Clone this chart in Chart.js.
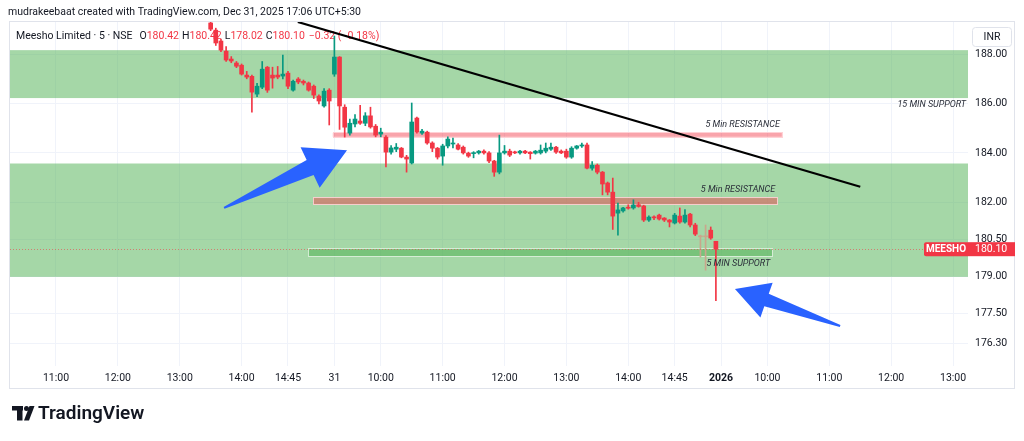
<!DOCTYPE html>
<html><head><meta charset="utf-8">
<script src="https://cdn.jsdelivr.net/npm/chart.js@4.4.1/dist/chart.umd.min.js"></script>
<style>html,body{margin:0;padding:0;background:#fff;overflow:hidden}canvas{display:block}</style>
</head><body>
<canvas id="c" width="1024" height="441"></canvas>
<script>
// ---- DATA ----
const candleIdx = [51,52,53,54,55,56,57,58,59,60,61,62,63,64,65,66,67,68,69,70,71,72,73,74,75,76,77,78,79,80,81,82,83,84,85,86,87,88,89,90,91,92,93,94,95,96,97,98,99,100,101,102,103,104,105,106,107,108,109,110,111,112,113,114,115,116,117,118,119,120,121,122,123,124,125,126,127,128,129,130,131,132,133,134,135,136,137,138,139,140,141,142,143,144,145,146,147,148,149];
const opens  = [189.26,188.97,188.53,188.12,187.80,187.64,187.55,187.15,187.10,186.38,186.66,187.47,187.15,187.15,187.11,187.23,186.54,186.99,186.90,186.83,186.70,186.30,185.90,186.54,187.19,187.88,185.85,184.80,185.17,185.29,185.20,185.50,185.08,184.76,184.64,184.03,184.15,184.19,183.83,183.59,185.41,184.80,184.84,184.40,184.19,183.87,184.28,184.36,184.32,184.23,183.99,183.97,184.00,184.07,184.00,183.67,183.22,184.00,184.07,184.03,184.00,184.07,184.03,183.99,184.00,184.07,184.15,184.23,184.07,184.07,183.83,184.19,184.28,184.32,183.38,183.50,183.22,182.78,182.41,181.56,181.65,181.79,181.77,181.90,181.85,181.28,181.40,181.48,181.36,181.28,181.16,181.44,181.20,181.52,181.08,180.62,180.60,180.87,180.42];
const highs  = [189.60,189.05,188.60,188.30,187.90,187.70,187.60,187.30,187.15,186.82,187.70,187.50,187.47,187.50,187.96,187.30,186.95,187.05,186.95,186.87,186.75,186.35,186.60,186.60,188.73,187.90,185.95,185.37,185.55,185.93,185.63,185.85,185.15,185.00,184.70,184.30,184.38,184.22,183.90,186.02,185.45,184.95,184.88,184.45,184.22,184.35,184.65,184.60,184.38,184.28,184.03,184.05,184.10,184.12,184.05,183.70,184.72,184.30,184.15,184.07,184.10,184.10,184.05,184.10,184.32,184.40,184.40,184.27,184.12,184.15,184.25,184.30,184.40,184.40,183.65,183.55,183.25,182.82,182.98,181.97,181.80,181.90,182.10,182.00,181.88,181.45,181.45,181.52,181.38,181.30,181.55,181.77,181.70,181.55,181.15,180.67,181.08,181.00,180.42];
const lows   = [188.95,188.35,188.10,187.70,187.65,187.45,187.15,187.00,185.65,186.28,186.60,186.45,186.62,187.00,187.00,186.60,186.50,186.80,186.75,186.50,186.20,185.98,185.85,185.13,187.10,184.95,184.64,184.72,185.05,185.15,185.10,185.00,184.65,184.65,183.43,183.95,184.05,183.80,183.22,183.55,184.80,184.75,184.35,184.05,183.75,183.50,184.20,184.20,184.12,183.95,183.82,183.80,183.95,183.95,183.60,183.05,183.15,183.95,183.85,183.97,183.95,183.97,183.75,183.95,183.95,184.00,184.10,183.98,183.97,183.78,183.78,184.15,184.22,183.35,183.30,183.15,182.30,182.30,180.90,180.67,181.60,181.72,181.72,181.80,181.22,181.22,181.30,181.28,181.22,181.00,181.12,181.15,181.15,181.00,180.65,179.78,179.25,180.50,178.02];
const closes = [189.01,188.45,188.16,187.76,187.72,187.51,187.19,187.07,186.46,186.70,187.39,186.54,187.03,187.07,187.19,186.70,186.90,186.87,186.83,186.54,186.34,186.10,186.50,186.10,187.88,185.90,185.04,185.20,185.37,185.20,185.50,185.05,184.72,184.84,184.03,184.20,184.23,183.83,183.75,185.25,184.84,184.88,184.40,184.19,183.83,184.28,184.56,184.40,184.15,184.00,183.87,184.01,184.07,184.00,183.67,183.22,184.00,184.07,183.91,184.00,184.07,184.00,183.97,184.07,184.11,184.19,184.23,184.03,184.00,183.83,184.19,184.28,184.32,183.38,183.50,183.22,182.74,182.41,181.44,181.69,181.77,181.76,181.89,181.83,181.28,181.40,181.37,181.32,181.28,181.20,181.48,181.20,181.48,181.08,180.71,180.60,180.63,180.55,180.10];
const fadedCandles = [146,147];

const xTickIdx    = [21,33,45,57,66,75,84,96,108,120,132,141,150,159,171,183,195];
const xTickLabels = ['11:00','12:00','13:00','14:00','14:45','31','10:00','11:00','12:00','13:00','14:00','14:45','2026','10:00','11:00','12:00','13:00'];
const yTicks      = [188,186,184,182,180.5,179,177.5,176.3];

// zones (full width)
const zoneTop    = [188.16,183.57];
const zoneBottom = [186.22,178.98];
const zoneLabel  = ['15 MIN SUPPORT',''];
// narrow bands
const bandFrom   = [74.7,70.85,69.9];
const bandTo     = [161.8,160.9,159.9];
const bandTop    = [184.81,182.17,180.10];
const bandBottom = [184.65,181.93,179.82];
const bandLabel  = ['5 Min RESISTANCE','5 Min RESISTANCE','5 MIN SUPPORT'];
const bandKind   = ['res','res','sup'];
// trend line
const trendFrom = [67.9,189.3];
const trendTo   = [177.0,182.63];
// arrows [index, price]
const arrowTail = [[53.6,181.77],[173.1,176.99]];
const arrowTip  = [[77.45,184.11],[152.7,178.49]];
const lastPrice = 180.10;

// ---- STYLE ----
const UP='#089981', DOWN='#f23645', FADE='#c9a68c', TXT='#131722';
const FONT='Roboto, "Liberation Sans", sans-serif';
Chart.defaults.font.family = FONT;

function candleColor(ctx){
  const k = ctx.dataIndex;
  if (fadedCandles.includes(candleIdx[k])) return FADE;
  return closes[k] >= opens[k] ? UP : DOWN;
}

const overlay = {
  id:'overlay',
  beforeDraw(chart){
    const c = chart.ctx;
    c.save(); c.fillStyle='#fff'; c.fillRect(0,0,chart.width,chart.height); c.restore();
  },
  beforeDatasetsDraw(chart){
    const c = chart.ctx, xs = chart.scales.x, ys = chart.scales.y, a = chart.chartArea;
    c.save();
    c.beginPath(); c.rect(a.left,a.top,a.right-a.left,a.bottom-a.top); c.clip();
    for (let k=0;k<zoneTop.length;k++){
      const y1 = ys.getPixelForValue(zoneTop[k]), y2 = ys.getPixelForValue(zoneBottom[k]);
      c.fillStyle='rgba(76,175,80,0.5)';
      c.fillRect(a.left,y1,a.right-a.left,y2-y1);
    }
    for (let k=0;k<bandTop.length;k++){
      const x1=xs.getPixelForValue(bandFrom[k]), x2=xs.getPixelForValue(bandTo[k]);
      const y1=ys.getPixelForValue(bandTop[k]), y2=ys.getPixelForValue(bandBottom[k]);
      c.fillStyle = bandKind[k]==='res' ? 'rgba(242,54,69,0.45)' : 'rgba(76,175,80,0.5)';
      c.fillRect(x1,y1,x2-x1,y2-y1);
      c.strokeStyle = bandKind[k]==='res' ? 'rgba(255,205,210,0.9)' : 'rgba(220,240,220,0.9)';
      c.lineWidth=1; c.strokeRect(Math.round(x1)+0.5,Math.round(y1)-0.5,Math.round(x2-x1),Math.round(y2-y1)+1);
    }
    c.restore();
    // legend (under candles)
    c.save();
    c.font = '10.5px '+FONT; c.textBaseline='middle';
    let x = 16; const y = 36;
    const segs = [['Meesho Limited · 5 · NSE',TXT,7],['O',TXT,0],['180.42',DOWN,3],['H',TXT,0],['180.42',DOWN,3],['L',TXT,0],['178.02',DOWN,3],['C',TXT,0],['180.10',DOWN,4],['−0.32 (−0.18%)',DOWN,0]];
    for (const [t,col,gap] of segs){ c.fillStyle=col; c.fillText(t,x,y); x += c.measureText(t).width + gap; }
    c.restore();
  },
  afterDatasetsDraw(chart){
    const c = chart.ctx, xs = chart.scales.x, ys = chart.scales.y, a = chart.chartArea;
    const P = (p)=>[xs.getPixelForValue(p[0]), ys.getPixelForValue(p[1])];
    c.save();
    c.beginPath(); c.rect(a.left,a.top,a.right-a.left,a.bottom-a.top); c.clip();
    const yl = Math.round(ys.getPixelForValue(lastPrice))+0.5;
    c.strokeStyle='rgba(242,54,69,0.55)'; c.setLineDash([1,2]); c.lineWidth=1;
    c.beginPath(); c.moveTo(a.left,yl); c.lineTo(a.right,yl); c.stroke(); c.setLineDash([]);
    const t1=P(trendFrom), t2=P(trendTo);
    c.strokeStyle='#000'; c.lineWidth=2.2; c.lineCap='butt';
    c.beginPath(); c.moveTo(t1[0],t1[1]); c.lineTo(t2[0],t2[1]); c.stroke();
    c.fillStyle='#2962ff';
    for (let k=0;k<arrowTail.length;k++){
      const [tx,ty]=P(arrowTail[k]), [hx,hy]=P(arrowTip[k]);
      const dx=hx-tx, dy=hy-ty, L=Math.hypot(dx,dy), ux=dx/L, uy=dy/L, nx=-uy, ny=ux;
      const hl=L*0.3, hw=L*0.165, sw=L*0.06;
      const bx=hx-ux*hl, by=hy-uy*hl;
      c.beginPath();
      c.moveTo(tx+nx*1,ty+ny*1);
      c.lineTo(bx+nx*sw,by+ny*sw);
      c.lineTo(bx+nx*hw,by+ny*hw);
      c.lineTo(hx,hy);
      c.lineTo(bx-nx*hw,by-ny*hw);
      c.lineTo(bx-nx*sw,by-ny*sw);
      c.lineTo(tx-nx*1,ty-ny*1);
      c.closePath(); c.fill();
    }
    c.font='italic 9px '+FONT; c.fillStyle='#2a2e39'; c.textAlign='right';
    for (let k=0;k<bandTop.length;k++){
      const x2=xs.getPixelForValue(bandTo[k]);
      if (bandKind[k]==='res'){ c.textBaseline='bottom'; c.fillText(bandLabel[k], x2-2, ys.getPixelForValue(bandTop[k])-4); }
      else { c.textBaseline='top'; c.fillText(bandLabel[k], x2-2, ys.getPixelForValue(bandBottom[k])+3); }
    }
    for (let k=0;k<zoneTop.length;k++){
      if (!zoneLabel[k]) continue;
      c.textBaseline='top'; c.fillText(zoneLabel[k], a.right-2, ys.getPixelForValue(zoneBottom[k])+2);
    }
    c.restore();
    c.save();
    const yt = ys.getPixelForValue(lastPrice);
    c.fillStyle=DOWN;
    c.beginPath(); c.roundRect(a.right-44, yt-7, 44, 14, [2,0,0,2]); c.fill();
    c.fillStyle='#fff'; c.font='bold 10px '+FONT; c.textAlign='center'; c.textBaseline='middle';
    c.fillText('MEESHO', a.right-22, yt+0.5);
    c.restore();
  },
  afterDraw(chart){
    const c = chart.ctx, ys = chart.scales.y, a = chart.chartArea;
    c.save();
    c.fillStyle=TXT; c.font='10.5px '+FONT; c.textBaseline='middle';
    c.fillText('mudrakeebaat created with TradingView.com, Dec 31, 2025 17:06 UTC+5:30', 8, 12);
    c.strokeStyle='#e0e3eb'; c.lineWidth=1;
    c.strokeRect(9.5, 21.5, 1005, 367);
    const yt = ys.getPixelForValue(lastPrice);
    c.fillStyle=DOWN; c.fillRect(a.right, yt-7, 47, 14);
    c.fillStyle='#fff'; c.font='10.5px '+FONT; c.textBaseline='middle'; c.textAlign='left';
    c.fillText(lastPrice.toFixed(2), a.right+7, yt+0.5);
    c.fillStyle='#fff'; c.strokeStyle='#e0e3eb';
    c.beginPath(); c.roundRect(972.5, 27.5, 39, 19, 3); c.fill(); c.stroke();
    c.fillStyle=TXT; c.textAlign='center'; c.font='10.5px '+FONT;
    c.fillText('INR', 992, 37.5);
    c.fillStyle='#131722';
    c.fillRect(12,406,11,4.5); c.fillRect(17,406,5.5,14.5);
    c.beginPath(); c.arc(26.5,408.5,2.5,0,Math.PI*2); c.fill();
    c.beginPath(); c.moveTo(29.5,406); c.lineTo(34.5,406); c.lineTo(29,420.5); c.lineTo(24,420.5); c.closePath(); c.fill();
    c.font='600 19px '+FONT; c.textAlign='left'; c.textBaseline='middle';
    c.fillText('TradingView', 38, 414);
    c.restore();
  }
};

const bodyData = candleIdx.map((x,k)=>({x, y:[Math.min(opens[k],closes[k]), Math.max(opens[k],closes[k])]}));
const wickData = candleIdx.map((x,k)=>({x, y:[lows[k], highs[k]]}));

new Chart(document.getElementById('c'), {
  type:'bar',
  data:{ datasets:[
    { label:'body', data: bodyData, backgroundColor: candleColor, barThickness:4, minBarLength:1, grouped:false, order:0, borderWidth:0, borderSkipped:false },
    { label:'wick', data: wickData, backgroundColor: candleColor, barThickness:1, grouped:false, order:1, borderWidth:0, borderSkipped:false }
  ]},
  options:{
    responsive:false, animation:false, devicePixelRatio:1, events:[],
    layout:{ padding:{ left:10, top:22, right:9, bottom:53 } },
    plugins:{ legend:{display:false}, tooltip:{enabled:false} },
    scales:{
      x:{ type:'linear', min:12.08, max:197.9, offset:false,
          grid:{ color:'#f0f3fa', drawTicks:false, offset:false }, border:{display:false},
          afterBuildTicks: s => { s.ticks = xTickIdx.map(v=>({value:v})); },
          afterFit: s => { s.height = 22; },
          ticks:{ autoSkip:false, maxRotation:0, padding:6, color:TXT,
                  font: ctx => ({ size:10.5, weight: (ctx.tick && (ctx.tick.value===150)) ? 'bold' : 'normal' }),
                  callback: v => xTickLabels[xTickIdx.indexOf(v)] }
      },
      y:{ type:'linear', position:'right', min:175.37, max:189.3,
          grid:{ color:'#f0f3fa', drawTicks:false }, border:{display:false},
          afterBuildTicks: s => { s.ticks = yTicks.map(v=>({value:v})); },
          afterFit: s => { s.width = 47; },
          ticks:{ padding:7, color:TXT, font:{size:10.5}, callback: v => Number(v).toFixed(2) }
      }
    }
  },
  plugins:[overlay]
});
</script>
</body></html>
